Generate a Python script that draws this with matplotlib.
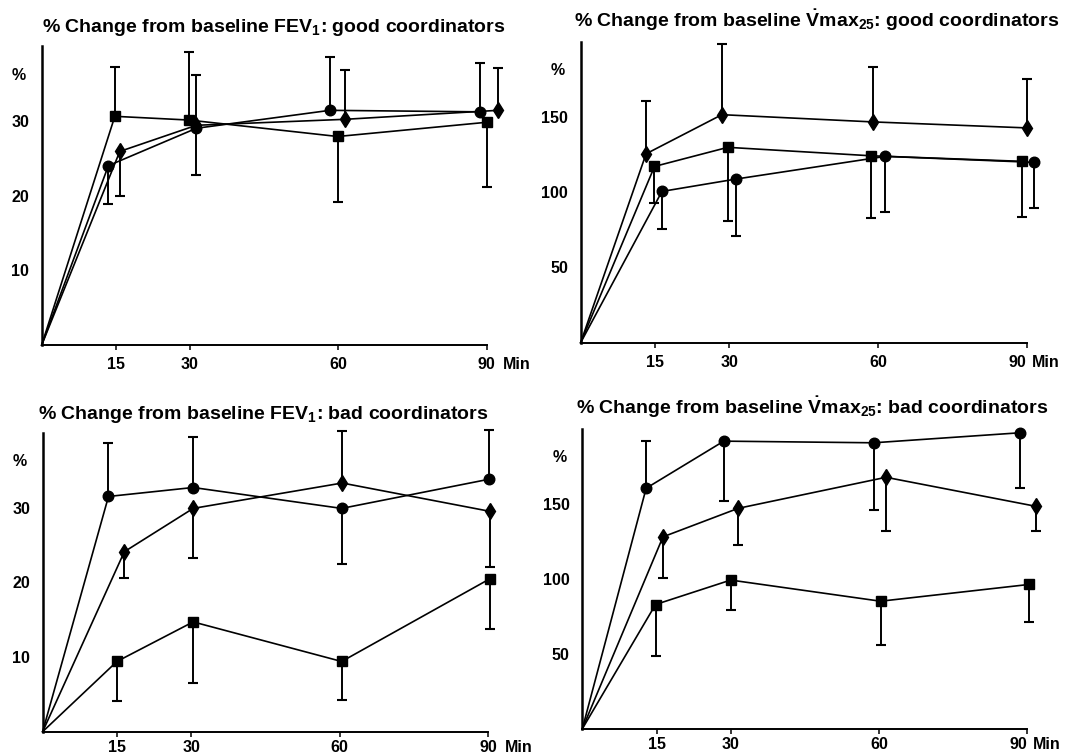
import matplotlib
matplotlib.use("Agg")
import matplotlib.pyplot as plt
import numpy as np

plt.rcParams.update({
    "font.family": ["Liberation Sans", "DejaVu Sans"],
    "font.weight": "bold",
    "mathtext.fontset": "custom",
    "mathtext.rm": "Liberation Sans:bold",
    "mathtext.it": "Liberation Sans:bold",
    "mathtext.bf": "Liberation Sans:bold",
    "mathtext.sf": "Liberation Sans:bold",
})

# panel titles
titles = [
    "% Change from baseline FEV$_1$: good coordinators",
    r"% Change from baseline $\dot{V}$max$_{25}$: good coordinators",
    "% Change from baseline FEV$_1$: bad coordinators",
    r"% Change from baseline $\dot{V}$max$_{25}$: bad coordinators",
]
x_ticks = [15, 30, 60, 90]
fev_ticks = [10, 20, 30]
vmax_ticks = [50, 100, 150]

# values: x (min), mean % change, end of the SD bar (nan = no bar)
# FEV1, good coordinators
gf_sq_x = [0, 14.8, 29.8, 59.9, 90.0]
gf_sq_y = [0, 30.6, 30.1, 27.9, 29.8]
gf_sq_tip = [np.nan, 37.2, 39.2, 19.2, 21.1]
gf_ci_x = [0, 13.5, 31.3, 58.3, 88.6]
gf_ci_y = [0, 24.0, 29.0, 31.4, 31.2]
gf_ci_tip = [np.nan, 18.9, 22.8, 38.6, 37.7]
gf_di_x = [0, 15.8, 31.3, 61.4, 92.3]
gf_di_y = [0, 25.9, 29.4, 30.2, 31.4]
gf_di_tip = [np.nan, 19.9, 36.1, 36.8, 37.0]

# Vmax25, good coordinators
gv_di_x = [0, 13.2, 28.5, 58.9, 90.1]
gv_di_y = [0, 125.5, 151.5, 146.7, 142.7]
gv_di_tip = [np.nan, 160.5, 198.7, 183.3, 175.5]
gv_sq_x = [0, 14.9, 29.7, 58.5, 89.0]
gv_sq_y = [0, 117.1, 129.8, 124.2, 120.5]
gv_sq_tip = [np.nan, 92.7, 80.9, 82.7, 83.3]
gv_ci_x = [0, 16.4, 31.3, 61.5, 91.5]
gv_ci_y = [0, 100.5, 108.7, 123.8, 119.8]
gv_ci_tip = [np.nan, 75.5, 71.1, 87.1, 89.3]

# FEV1, bad coordinators
bf_ci_x = [0, 13.3, 30.4, 60.4, 90.1]
bf_ci_y = [0, 31.5, 32.7, 29.9, 33.8]
bf_ci_tip = [np.nan, 38.6, 39.4, 22.4, 40.4]
bf_di_x = [0, 16.5, 30.4, 60.5, 90.4]
bf_di_y = [0, 24.1, 29.9, 33.3, 29.5]
bf_di_tip = [np.nan, 20.6, 23.2, 40.3, 22.0]
bf_sq_x = [0, 15.0, 30.4, 60.4, 90.4]
bf_sq_y = [0, 9.4, 14.7, 9.4, 20.5]
bf_sq_tip = [np.nan, 4.1, 6.5, 4.2, 13.8]

# Vmax25, bad coordinators
bv_ci_x = [0, 12.9, 28.6, 58.9, 88.6]
bv_ci_y = [0, 160.3, 191.7, 190.6, 197.3]
bv_ci_tip = [np.nan, 191.5, 151.6, 146.0, 160.3]
bv_di_x = [0, 16.3, 31.5, 61.4, 91.8]
bv_di_y = [0, 127.9, 146.9, 167.6, 148.2]
bv_di_tip = [np.nan, 100.7, 122.3, 131.9, 131.5]
bv_sq_x = [0, 14.8, 30.0, 60.3, 90.4]
bv_sq_y = [0, 82.8, 99.1, 85.0, 96.2]
bv_sq_tip = [np.nan, 48.2, 79.0, 56.0, 71.0]

MARKERS = {"sq": ("s", 7.0), "ci": ("o", 7.6), "di": ("d", 8.0)}


def draw_series(ax, x, y, tip, kind):
    x = np.asarray(x, float)
    y = np.asarray(y, float)
    tip = np.asarray(tip, float)
    marker, ms = MARKERS[kind]
    ax.plot(x, y, color="black", lw=1.2, marker=marker, ms=ms, markevery=slice(1, None),
            clip_on=False, zorder=3)
    has = ~np.isnan(tip)
    ax.vlines(x[has], y[has], tip[has], color="black", lw=1.4, clip_on=False, zorder=2)
    ax.plot(x[has], tip[has], ls="none", marker="_", ms=6.5, mew=1.5, color="black",
            clip_on=False, zorder=2)


def setup_axes(ax, ylim, yticks, title, title_dx, min_dx, xpad, tight_end=False):
    ax.set_xlim(0, 90)
    ax.set_ylim(*ylim)
    for side in ("top", "right"):
        ax.spines[side].set_visible(False)
    ax.spines["left"].set_linewidth(1.8)
    ax.spines["bottom"].set_linewidth(1.4)
    ax.set_xticks(x_ticks)
    ax.set_yticks(yticks)
    ax.tick_params(axis="x", length=3.5, width=1.1, pad=xpad, labelsize=11.5)
    ax.tick_params(axis="y", length=0, pad=9, labelsize=11.5)
    if tight_end:
        # the last label sits a little left of its tick to leave room for "Min"
        ax.get_xticklabels()[-1].set_horizontalalignment("right")
    ax.text(-0.052, 0.903, "%", transform=ax.transAxes, ha="center", va="center",
            fontsize=11.5, fontweight="bold")
    ax.annotate("Min", xy=(1, 0), xycoords="axes fraction", xytext=(min_dx, -3.5 - xpad),
                textcoords="offset points", ha="left", va="top", fontsize=11.5,
                fontweight="bold")
    ax.text(title_dx, 1.028, title, transform=ax.transAxes, ha="left", va="bottom",
            fontsize=14.0, fontweight="bold")


fig = plt.figure(figsize=(10.66, 7.55), dpi=100)
ax1 = fig.add_axes([0.0391, 0.543, 0.4173, 0.396])
ax2 = fig.add_axes([0.5447, 0.5461, 0.4184, 0.3987])
ax3 = fig.add_axes([0.0400, 0.0309, 0.4180, 0.3956])
ax4 = fig.add_axes([0.5463, 0.0348, 0.4175, 0.3974])

draw_series(ax1, gf_sq_x, gf_sq_y, gf_sq_tip, "sq")
draw_series(ax1, gf_ci_x, gf_ci_y, gf_ci_tip, "ci")
draw_series(ax1, gf_di_x, gf_di_y, gf_di_tip, "di")
setup_axes(ax1, (0, 40), fev_ticks, titles[0], 0.0, 12, 5)

draw_series(ax2, gv_di_x, gv_di_y, gv_di_tip, "di")
draw_series(ax2, gv_sq_x, gv_sq_y, gv_sq_tip, "sq")
draw_series(ax2, gv_ci_x, gv_ci_y, gv_ci_tip, "ci")
setup_axes(ax2, (0, 200), vmax_ticks, titles[1], -0.015, 4, 5, tight_end=True)

draw_series(ax3, bf_ci_x, bf_ci_y, bf_ci_tip, "ci")
draw_series(ax3, bf_di_x, bf_di_y, bf_di_tip, "di")
draw_series(ax3, bf_sq_x, bf_sq_y, bf_sq_tip, "sq")
setup_axes(ax3, (0, 40), fev_ticks, titles[2], -0.011, 12, 2.5)

draw_series(ax4, bv_ci_x, bv_ci_y, bv_ci_tip, "ci")
draw_series(ax4, bv_di_x, bv_di_y, bv_di_tip, "di")
draw_series(ax4, bv_sq_x, bv_sq_y, bv_sq_tip, "sq")
setup_axes(ax4, (0, 200), vmax_ticks, titles[3], -0.015, 4, 2.5, tight_end=True)

fig.savefig("out.png", dpi=100, facecolor="white")
